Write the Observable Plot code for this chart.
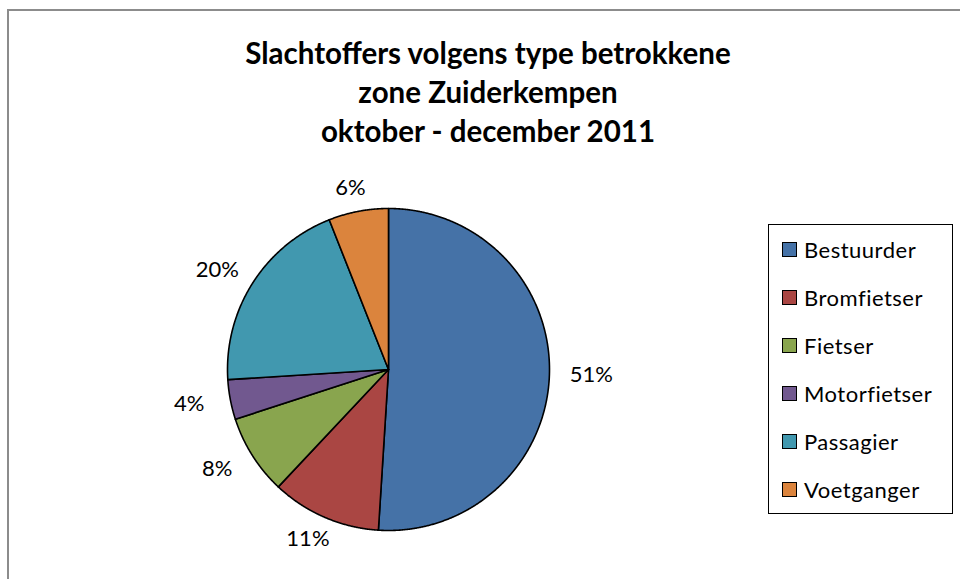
<!DOCTYPE html>
<html>
<head>
<meta charset="utf-8">
<script src="https://cdn.jsdelivr.net/npm/d3@7"></script>
<script src="https://cdn.jsdelivr.net/npm/@observablehq/plot@0.6"></script>
<style>
  html, body { margin: 0; padding: 0; background: #fff; }
  #wrap { position: relative; width: 960px; height: 579px; overflow: hidden; font-family: Lato, "Open Sans", sans-serif; }
  #frame { position: absolute; left: 7px; top: 9px; width: 1000px; height: 700px; border: 2px solid #8c8c8c; box-sizing: border-box; }
  #title { position: absolute; left: 0; top: 33px; width: 976px; text-align: center; font-weight: bold; font-size: 29.5px; line-height: 39px; color: #000; }
  #plot { position: absolute; left: 0; top: 0; }
  #legend { position: absolute; left: 768px; top: 224px; width: 185px; height: 290px; border: 1.5px solid #000; box-sizing: border-box; padding-top: 0; }
  .item { height: 48px; display: flex; align-items: center; font-size: 22px; letter-spacing: 0.5px; color: #000; }
  .sw { width: 13px; height: 13px; border: 1.5px solid #000; margin-left: 13px; margin-right: 7px; flex: none; }
</style>
</head>
<body>
<div id="wrap">
  <div id="frame"></div>
  <div id="plot"></div>
  <div id="title"></div>
  <div id="legend"></div>
</div>
<script>
const categories = ["Bestuurder", "Bromfietser", "Fietser", "Motorfietser", "Passagier", "Voetganger"];
const percentages = [51, 11, 8, 4, 20, 6];
const colors = ["#4572A7", "#AA4643", "#89A54E", "#71588F", "#4198AF", "#DB843D"];
const titleLines = ["Slachtoffers volgens type betrokkene", "zone Zuiderkempen", "oktober - december 2011"];

const data = categories.map((name, i) => ({name, value: percentages[i]}));
const arcs = d3.pie().sort(null).value(d => d.value)(data);

// wedge outlines in unit-circle coordinates (angle clockwise from 12 o'clock)
const wedgePts = [];
for (const a of arcs) {
  wedgePts.push({name: a.data.name, x: 0, y: 0});
  const n = Math.max(2, Math.ceil((a.endAngle - a.startAngle) / 0.005));
  for (let k = 0; k <= n; k++) {
    const t = a.startAngle + (a.endAngle - a.startAngle) * k / n;
    wedgePts.push({name: a.data.name, x: Math.sin(t), y: Math.cos(t)});
  }
}
const labelPts = arcs.map(a => {
  const m = (a.startAngle + a.endAngle) / 2;
  return {name: a.data.name, text: a.data.value + "%", x: 1.26 * Math.sin(m), y: 1.15 * Math.cos(m)};
});

const R = 161, cx = 388, cy = 369, W = 960, H = 579;
const chart = Plot.plot({
  width: W, height: H,
  margin: 0,
  x: {domain: [-cx / R, (W - cx) / R], range: [0, W], axis: null},
  y: {domain: [-(H - cy) / R, cy / R], range: [H, 0], axis: null},
  color: {domain: categories, range: colors},
  style: {background: "transparent", fontFamily: "Lato, 'Open Sans', sans-serif"},
  marks: [
    Plot.line(wedgePts, {x: "x", y: "y", z: "name", fill: "name", stroke: "#000", strokeWidth: 1.6, curve: "linear-closed", strokeLinejoin: "round"}),
    Plot.text(labelPts, {x: "x", y: "y", text: "text", fontSize: 22, fill: "#000", textAnchor: "middle", lineAnchor: "middle"})
  ]
});
document.getElementById("plot").appendChild(chart);

document.getElementById("title").innerHTML = titleLines.map(t => `<div>${t}</div>`).join("");
document.getElementById("legend").innerHTML = categories.map((c, i) =>
  `<div class="item"><div class="sw" style="background:${colors[i]}"></div><span>${c}</span></div>`).join("");
</script>
</body>
</html>
